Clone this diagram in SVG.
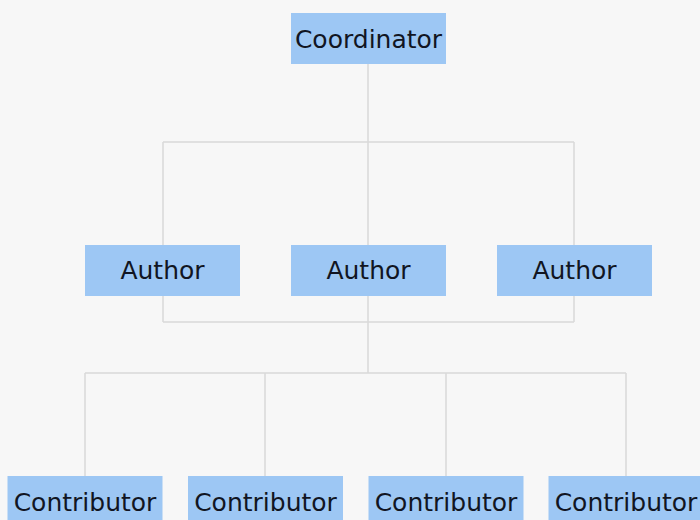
<svg xmlns="http://www.w3.org/2000/svg" width="700" height="520" viewBox="0 0 700 520">
<style>
.box{fill:#9dc7f4;}
.lbl{font-family:"DejaVu Sans",Verdana,sans-serif;font-size:25px;fill:#111522;text-anchor:middle;}
.ln{stroke:#d9d9d9;stroke-width:1.5;fill:none;}
</style>
<rect width="700" height="520" fill="#f7f7f7"/>
<g id="connectors">
<path class="ln" d="M368,64 V373"/>
<path class="ln" d="M163,142 H574 M163,142 V322 M574,142 V322 M163,322 H574"/>
<path class="ln" d="M85,373 H626 M85,373 V476 M265,373 V476 M446,373 V476 M626,373 V476"/>
</g>
<g id="coordinator"><rect class="box" x="291" y="13" width="155" height="51"/><text class="lbl" x="368.5" y="48">Coordinator</text></g>
<g id="author1"><rect class="box" x="85" y="245" width="155" height="51"/><text class="lbl" x="162.5" y="279">Author</text></g>
<g id="author2"><rect class="box" x="291" y="245" width="155" height="51"/><text class="lbl" x="368.5" y="279">Author</text></g>
<g id="author3"><rect class="box" x="497" y="245" width="155" height="51"/><text class="lbl" x="574.5" y="279">Author</text></g>
<g id="contributor1"><rect class="box" x="7.5" y="476" width="155" height="51"/><text class="lbl" x="85" y="511">Contributor</text></g>
<g id="contributor2"><rect class="box" x="188" y="476" width="155" height="51"/><text class="lbl" x="265.5" y="511">Contributor</text></g>
<g id="contributor3"><rect class="box" x="368.5" y="476" width="155" height="51"/><text class="lbl" x="446" y="511">Contributor</text></g>
<g id="contributor4"><rect class="box" x="548.5" y="476" width="155" height="51"/><text class="lbl" x="626" y="511">Contributor</text></g>
</svg>
